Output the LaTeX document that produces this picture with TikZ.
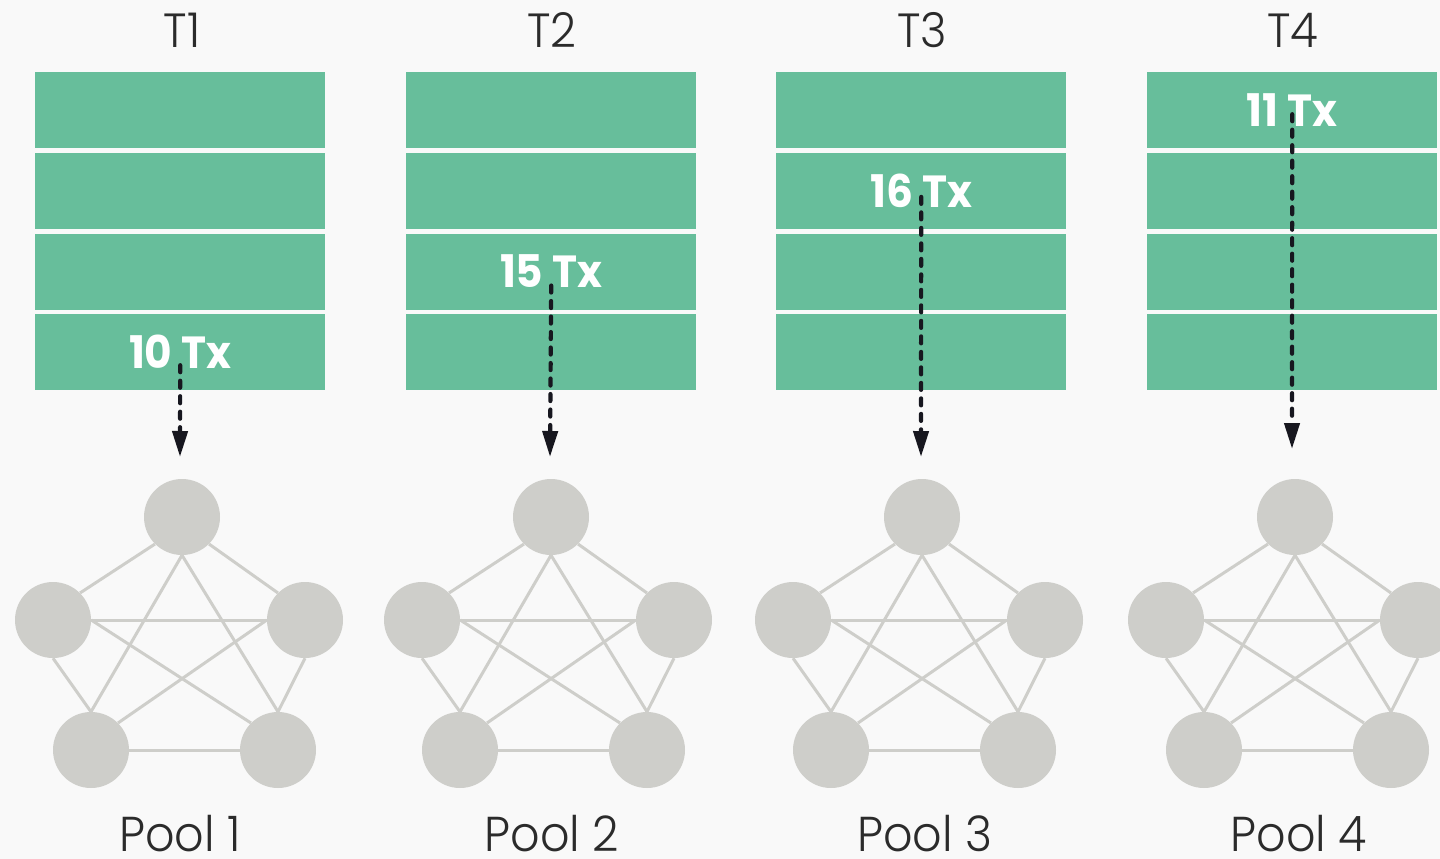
\documentclass[tikz,border=0pt]{standalone}
\usepackage{fontspec}
\setmainfont{Poppins}
\newfontfamily\lightfont{Poppins Light}[FakeStretch=0.94]
\newfontfamily\semifont{Poppins Bold}[FakeStretch=0.94]
\usetikzlibrary{arrows.meta}
\definecolor{bg}{HTML}{F9F9F9}
\definecolor{rowgreen}{HTML}{67BE9B}
\definecolor{nodegray}{HTML}{CECECA}
\definecolor{arrowdark}{HTML}{17171F}
\definecolor{labeldark}{HTML}{2B2B2B}
\tikzset{
  rowbox/.style={draw=none, fill=rowgreen, minimum width=290pt, minimum height=76pt, inner sep=0pt, anchor=north west},
  txlabel/.style={text=white, font=\semifont\fontsize{45}{45}\selectfont, inner sep=0pt},
  collabel/.style={text=labeldark, font=\lightfont\fontsize{48}{48}\selectfont, inner sep=0pt},
  poollabel/.style={text=labeldark, font=\lightfont\fontsize{49}{49}\selectfont, inner sep=0pt},
  peer/.style={circle, fill=nodegray, draw=none, minimum size=76pt, inner sep=0pt},
  edge/.style={draw=nodegray, line width=3pt},
  flowarrow/.style={draw=arrowdark, line width=4.2pt, line cap=round, dash pattern=on 7pt off 8.5pt, -{Triangle[length=26pt,width=15pt]}}
}
\begin{document}
\begin{tikzpicture}[x=1pt,y=-1pt]
\fill[bg] (0,0) rectangle (1440,859);
\useasboundingbox (0,0) rectangle (1440,859);
\foreach \i/\rx/\px/\lx/\tx in {1/35/182/180/182, 2/406/551/552/552, 3/776/922/925/922, 4/1147/1295/1299/1293} {
  \node[collabel] (t\i) at (\tx,30) {T\i};
  \foreach \j in {1,...,4} {
    \node[rowbox] (c\i r\j) at (\rx,{72+80.67*(\j-1)}) {};
  }
  \node[peer] (p\i-a) at (\px,517) {};
  \node[peer] (p\i-b) at ({\px-129},620) {};
  \node[peer] (p\i-c) at ({\px+123},620) {};
  \node[peer] (p\i-d) at ({\px-91},750) {};
  \node[peer] (p\i-e) at ({\px+96},750) {};
  \draw[edge] (p\i-a.south west) -- (p\i-b.north east);
  \draw[edge] (p\i-a.south east) -- (p\i-c.north west);
  \draw[edge] (p\i-a.south) -- (p\i-d.north);
  \draw[edge] (p\i-a.south) -- (p\i-e.north);
  \draw[edge] (p\i-b.east) -- (p\i-c.west);
  \draw[edge] (p\i-b.south) -- (p\i-d.north);
  \draw[edge] (p\i-b.east) -- (p\i-e.north west);
  \draw[edge] (p\i-c.west) -- (p\i-d.north east);
  \draw[edge] (p\i-c.south) -- (p\i-e.north);
  \draw[edge] (p\i-d.east) -- (p\i-e.west);
  \node[poollabel] (pl\i) at (\lx,834) {Pool \i};
}
\node[txlabel] (tx1) at (c1r4.center) {10 Tx};
\node[txlabel] (tx2) at (c2r3.center) {15 Tx};
\node[txlabel] (tx3) at (c3r2.center) {16 Tx};
\node[txlabel] (tx4) at (c4r1.center) {11 Tx};
\coordinate (e1) at (180,457);
\coordinate (e2) at (550,457);
\coordinate (e3) at (921,457);
\coordinate (e4) at (1292,449);
\draw[flowarrow] ([yshift=-13pt]tx1.center) -- (e1);
\draw[flowarrow] ([yshift=-14pt]tx2.center) -- (e2);
\draw[flowarrow] ([yshift=-6pt]tx3.center) -- (e3);
\draw[flowarrow] ([yshift=-4pt]tx4.center) -- (e4);
\end{tikzpicture}
\end{document}
